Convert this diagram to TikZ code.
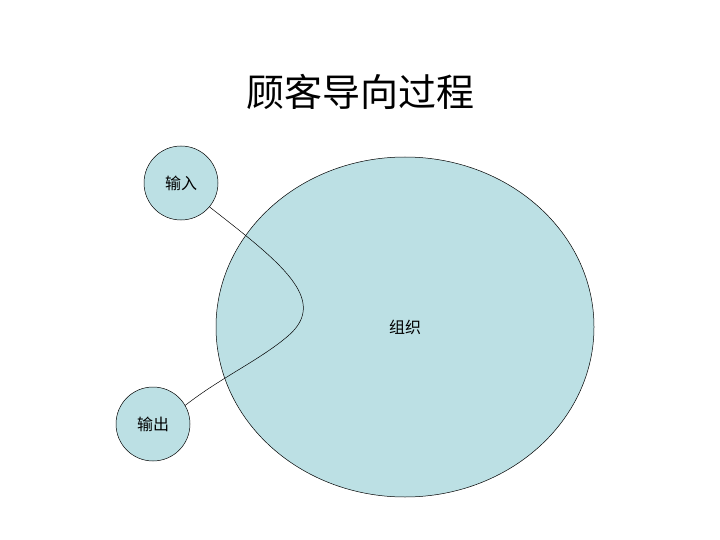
\documentclass[tikz,border=0pt]{standalone}
\usepackage{fontspec}
\usetikzlibrary{shapes.geometric}
\newfontfamily\cjk{Noto Sans CJK SC}
\definecolor{fillc}{RGB}{188,224,228}
\begin{document}
\begin{tikzpicture}[x=1pt,y=-1pt,
  blob/.style={draw=black,fill=fillc,line width=0.5pt}]
\useasboundingbox (0,0) rectangle (720,540);
\node[blob,ellipse,minimum width=378pt,minimum height=340pt,inner sep=0pt] (org) at (405,327) {};
\node[font=\cjk\fontsize{16}{16}\selectfont] (orgt) at (405,327) {组织};
\node[blob,circle,minimum size=74pt,inner sep=0pt,font=\cjk\fontsize{16}{16}\selectfont] (in) at (181,183) {输入};
\node[blob,circle,minimum size=74pt,inner sep=0pt,font=\cjk\fontsize{16}{16}\selectfont] (out) at (153,424) {输出};
\draw[line width=0.5pt] (in.-40) .. controls (280,262) and (330,300) .. (288,336) .. controls (260,360) and (220,378) .. (out.30);
\node[font=\cjk\fontsize{38}{38}\selectfont] (title) at (360,92) {顾客导向过程};
\end{tikzpicture}
\end{document}
